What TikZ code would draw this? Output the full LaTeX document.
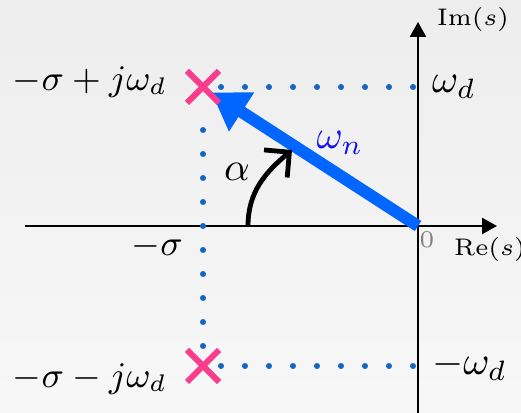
\documentclass[tikz,border=0pt]{standalone}
\usepackage{amsmath}
\usetikzlibrary{arrows.meta, positioning, calc, shapes.misc}
\definecolor{dotblue}{RGB}{21, 101, 192}
\definecolor{vecblue}{RGB}{0, 102, 255}
\definecolor{polepink}{RGB}{250, 60, 140}
\definecolor{labelblue}{RGB}{20, 20, 240}

\begin{document}
\begin{tikzpicture}[x=0.25pt, y=0.25pt, every node/.style={font=\normalsize},
    axis/.style={line width=0.6pt, -{Triangle[length=3.75pt, width=4pt]}},
    guide/.style={dotblue, line width=1.5pt, line cap=round, dash pattern=on 0pt off 6pt},
    vector/.style={vecblue, line width=3pt, -{Triangle[length=9pt, width=11pt]}},
    anglearrow/.style={line width=1.2pt, -{Straight Barb[length=4.5pt, width=9pt]}},
    pole/.style={cross out, draw=polepink, line width=1.5pt, minimum size=6.5pt, inner sep=0pt},
    polelabel/.style={font=\fontsize{8.8}{10}\selectfont},
    axislabel/.style={font=\fontsize{6}{7}\selectfont}]
    % Background
    \shade[top color=black!7, bottom color=black!3] (-418,-187) rectangle (103,226);
    \useasboundingbox (-418,-187) rectangle (103,226);

    % Axes
    \coordinate (O) at (0,0);
    \coordinate (xstart) at (-393,0);
    \coordinate (xend) at (79,0);
    \coordinate (ystart) at (0,-187);
    \coordinate (yend) at (0,204);
    \draw[axis] (xstart) -- (xend);
    \draw[axis] (ystart) -- (yend);
    \node[axislabel, anchor=west] (imlab) at ($(yend)+(5,2)$) {$\mathrm{Im}(s)$};
    \node[axislabel, anchor=west] (relab) at ($(O)+(22,-24)$) {$\mathrm{Re}(s)$};
    \node[axislabel, gray] (zero) at ($(O)+(9,-14)$) {$0$};

    % Pole positions
    \coordinate (pu) at (-215,139);
    \coordinate (pl) at (-215,-140);
    \coordinate (S) at (pu |- O);

    % Dotted guides
    \draw[guide, shorten <=4.5pt, shorten >=1.25pt] (pu) -- (pu -| O);
    \draw[guide, shorten <=4.5pt, shorten >=1.25pt] (pl) -- (pl -| O);
    \draw[guide, shorten <=5pt, shorten >=4.75pt] (pl) -- (pu);

    % Natural frequency vector
    \draw[vector, shorten >=2.5pt] (O) -- (pu);
    \node[labelblue] (wnlab) at (-78,83) {$\omega_n$};

    % Angle
    \coordinate (astart) at (-170,0);
    \coordinate (aend) at (-126,76);
    \draw[anglearrow] (astart) to[out=90, in=220] (aend);
    \node (alab) at (-181,54) {$\alpha$};

    % Poles
    \node[pole] (poleu) at (pu) {};
    \node[pole] (polel) at (pl) {};
    \node[polelabel, left=1.5pt of poleu, yshift=1.25pt] (pulab) {$-\sigma + j\omega_d$};
    \node[polelabel, left=1.5pt of polel, yshift=-3.25pt] (pllab) {$-\sigma - j\omega_d$};

    % Axis values
    \node[right=0pt] (wdlab) at (pu -| O) {$\omega_d$};
    \node[right=0pt] (mwdlab) at (pl -| O) {$-\omega_d$};
    \node[polelabel, anchor=east] (slab) at ($(S)+(-6,-21)$) {$-\sigma$};
\end{tikzpicture}
\end{document}
